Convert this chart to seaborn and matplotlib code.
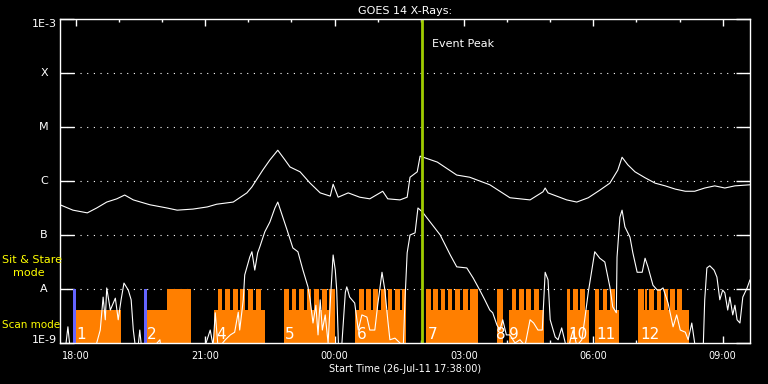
import matplotlib
matplotlib.use("Agg")
import matplotlib.pyplot as plt
from matplotlib.ticker import NullLocator, FixedLocator
import numpy as np
import pandas as pd
import seaborn as sns

# ---------------- data ----------------
title_text = "GOES 14 X-Rays:"
xlabel_text = "Start Time (26-Jul-11 17:38:00)"
span_minutes = 960  # minutes after 17:38

tick_minutes = [22, 202, 382, 562, 742, 922]
tick_labels = ["18:00", "21:00", "00:00", "03:00", "06:00", "09:00"]
hour_minutes = [22, 82, 142, 202, 262, 322, 382, 442, 502, 562, 622, 682, 742, 802, 862, 922]

decades = [1e-9, 1e-8, 1e-7, 1e-6, 1e-5, 1e-4, 1e-3]
class_levels = [1e-8, 1e-7, 1e-6, 1e-5, 1e-4]
class_letters = ["A", "B", "C", "M", "X"]

# long channel (1-8 A): minutes after start, log10 flux
long_t = [0, 18, 38, 51, 65, 79, 90, 102, 125, 149, 163, 185, 205, 218, 241, 260, 267,
          282, 292, 303, 313, 320, 334, 348, 362, 376, 380, 387, 401, 417, 431, 449, 456,
          473, 483, 487, 497, 501, 525, 552, 570, 598, 626, 654, 672, 675, 679, 705, 719,
          735, 751, 765, 776, 782, 790, 800, 814, 828, 842, 856, 870, 883, 897, 911, 925,
          939, 960]
long_log = [-6.44, -6.54, -6.59, -6.50, -6.39, -6.33, -6.26, -6.35, -6.44, -6.50, -6.54,
            -6.52, -6.48, -6.43, -6.39, -6.22, -6.11, -5.80, -5.61, -5.43, -5.61, -5.74,
            -5.83, -6.04, -6.22, -6.28, -6.06, -6.30, -6.22, -6.30, -6.33, -6.19, -6.33,
            -6.35, -6.30, -5.93, -5.83, -5.54, -5.65, -5.89, -5.93, -6.07, -6.31, -6.35,
            -6.20, -6.13, -6.22, -6.35, -6.39, -6.31, -6.17, -6.04, -5.80, -5.56, -5.70,
            -5.83, -5.94, -6.04, -6.09, -6.15, -6.19, -6.19, -6.13, -6.09, -6.13, -6.09,
            -6.07]

# short channel (0.5-4 A): minutes after start, log10 flux (values < -9 fall below the axis)
short_t = [0, 8, 11, 14, 28, 49, 56, 60, 63, 65, 70, 77, 81, 85, 89, 95, 99, 102, 107, 111,
           115, 139, 142, 180, 202, 209, 213, 216, 220, 230, 237, 243, 248, 250, 255, 257,
           262, 264, 267, 271, 275, 278, 285, 292, 299, 303, 309, 316, 324, 331, 338, 345,
           348, 352, 356, 359, 362, 365, 369, 373, 377, 380, 383, 385, 388, 392, 397, 399,
           403, 410, 415, 420, 427, 431, 438, 442, 448, 452, 456, 459, 466, 473, 477, 480,
           483, 487, 494, 498, 504, 515, 529, 543, 552, 566, 575, 584, 591, 598, 602, 608,
           612, 616, 621, 626, 633, 640, 647, 654, 659, 665, 671, 675, 679, 682, 689, 693,
           698, 703, 705, 710, 714, 719, 726, 730, 735, 740, 744, 751, 758, 765, 769, 774,
           775, 779, 782, 786, 793, 797, 803, 810, 814, 818, 825, 831, 835, 839, 846, 853,
           858, 863, 870, 874, 879, 883, 886, 895, 897, 900, 904, 910, 914, 918, 922, 925,
           929, 932, 936, 939, 942, 946, 950, 956, 960]
short_log = [-9.30, -9.05, -8.70, -9.10, -9.20, -9.10, -8.76, -8.15, -8.57, -7.98, -8.39,
             -8.17, -8.57, -8.20, -7.89, -8.02, -8.20, -8.76, -9.30, -8.76, -9.30, -8.94,
             -9.30, -9.40, -9.05, -8.76, -9.05, -8.44, -9.10, -8.94, -8.85, -8.80, -8.43,
             -8.76, -8.20, -7.74, -7.50, -7.41, -7.31, -7.65, -7.33, -7.22, -6.94, -6.76,
             -6.50, -6.39, -6.63, -6.91, -7.24, -7.31, -7.65, -7.96, -8.20, -8.63, -8.30,
             -8.85, -8.20, -8.76, -8.48, -9.00, -8.02, -7.37, -7.65, -8.02, -9.30, -9.05,
             -8.06, -7.96, -8.15, -8.26, -8.76, -8.48, -8.52, -8.76, -8.76, -8.30, -7.69,
             -8.02, -8.57, -8.94, -8.91, -9.00, -9.30, -8.20, -7.33, -7.00, -6.96, -6.50,
             -6.57, -6.76, -7.00, -7.37, -7.59, -7.61, -7.80, -8.02, -8.20, -8.39, -8.44,
             -8.67, -8.76, -8.57, -8.85, -8.85, -9.00, -8.94, -9.05, -8.57, -8.63, -8.76,
             -8.76, -7.69, -7.83, -8.57, -8.89, -8.94, -8.72, -9.00, -9.30, -8.94, -8.76,
             -9.05, -8.94, -8.57, -8.06, -7.65, -7.31, -7.43, -7.50, -7.96, -8.33, -8.44,
             -7.41, -6.67, -6.54, -6.85, -7.04, -7.33, -7.69, -7.69, -7.43, -7.59, -7.93,
             -8.02, -8.02, -7.98, -8.26, -8.70, -8.48, -8.76, -8.80, -8.94, -8.63, -9.00,
             -9.30, -9.05, -8.20, -7.61, -7.57, -7.65, -7.78, -8.20, -8.02, -8.07, -8.39,
             -8.15, -8.48, -8.30, -8.57, -8.63, -8.15, -7.98, -7.83]

# observing blocks (minutes after start)
scan_start = [22, 120, 214, 312, 411, 509, 608, 624, 705, 744, 804]
scan_end = [85, 182, 285, 383, 482, 581, 617, 674, 736, 778, 875]
sit_start = [149, 220, 230, 240, 250, 261, 272, 312, 323, 333, 343, 353, 364, 374,
             416, 426, 436, 446, 456, 466, 476, 509, 519, 530, 540, 550, 560, 570,
             608, 629, 639, 649, 659, 705, 714, 724, 744, 755, 765,
             804, 814, 820, 831, 840, 849, 859]
sit_end = [182, 226, 236, 247, 257, 268, 279, 319, 329, 339, 349, 360, 371, 383,
           423, 432, 442, 453, 462, 473, 482, 516, 526, 536, 546, 557, 567, 581,
           617, 635, 645, 655, 666, 710, 720, 730, 750, 761, 772,
           812, 817, 827, 836, 846, 856, 865]
marker_t = [20, 118.5]
block_labels = ["1", "2", "4", "5", "6", "7", "8", "9", "10", "11", "12"]
block_label_t = [23, 121, 217, 313, 413, 512, 607, 625, 707, 746, 807]
event_peak_t = 503

scan_top = 4.1e-9
sit_top = 1e-8
floor = 1e-10

# ---------------- style ----------------
sns.set_style("dark", {"axes.facecolor": "black", "figure.facecolor": "black",
                       "axes.edgecolor": "white", "text.color": "white",
                       "xtick.color": "white", "ytick.color": "white"})
plt.rcParams["font.family"] = ["DejaVu Sans"]

W, H = 768, 384
fig = plt.figure(figsize=(W / 100, H / 100), dpi=100, facecolor="black")
ax = fig.add_axes([60 / W, 41 / H, 690 / W, 324 / H])
ax.set_facecolor("black")
ax.set_yscale("log")
ax.set_xlim(0, span_minutes)
ax.set_ylim(1e-9, 1e-3)

orange = "#ff7f00"
# dotted class lines
for lv in class_levels:
    ax.axhline(lv, color="white", lw=0.8, ls=(0, (1, 5)), zorder=0.8)

# scan-mode blocks
s0 = np.array(scan_start, float); s1 = np.array(scan_end, float)
ax.bar(s0, scan_top - floor, width=s1 - s0, bottom=floor, align="edge",
       color=orange, linewidth=0, zorder=1)
# sit & stare blocks
h0 = np.array(sit_start, float); h1 = np.array(sit_end, float)
ax.bar(h0, sit_top - floor, width=h1 - h0, bottom=floor, align="edge",
       color=orange, linewidth=0, zorder=1)
# blue markers
ax.bar(marker_t, sit_top - floor, width=3.7, bottom=floor, align="center",
       color="#6464ff", linewidth=0, zorder=1.5)

df_long = pd.DataFrame({"t": long_t, "flux": np.power(10.0, long_log)})
df_short = pd.DataFrame({"t": short_t, "flux": np.power(10.0, short_log)})
sns.lineplot(data=df_long, x="t", y="flux", ax=ax, color="white", lw=0.8,
             estimator=None, sort=False, zorder=3)
sns.lineplot(data=df_short, x="t", y="flux", ax=ax, color="white", lw=0.8,
             estimator=None, sort=False, zorder=3)

ax.axvline(event_peak_t, color="#a0cc00", lw=2.0, zorder=4)
ax.text(517, 3.07e-4, "Event Peak", color="white", fontsize=8, va="baseline", zorder=6)

for lab, t in zip(block_labels, block_label_t):
    ax.text(t, 1.19e-9, lab, color="white", fontsize=11, va="baseline", ha="left", zorder=6)

# axes / ticks
ax.set_xlabel(""); ax.set_ylabel("")
for sp in ax.spines.values():
    sp.set_color("white"); sp.set_linewidth(1.0); sp.set_zorder(5)
ax.xaxis.set_major_locator(FixedLocator(tick_minutes))
ax.set_xticklabels(tick_labels)
ax.xaxis.set_minor_locator(FixedLocator(hour_minutes))
ax.tick_params(axis="x", which="major", direction="in", length=5, width=1,
               colors="white", top=True, bottom=True, labelsize=7, pad=5.5)
ax.tick_params(axis="x", which="minor", direction="in", length=2.5, width=1,
               colors="white", top=True, bottom=True)
ax.yaxis.set_major_locator(FixedLocator(decades))
ax.yaxis.set_minor_locator(NullLocator())
ax.set_yticklabels([""] * len(decades))
ax.tick_params(axis="y", which="major", direction="in", length=10, width=1,
               colors="white", left=True, right=True, labelleft=False)
ax.grid(False)

ytr = ax.get_yaxis_transform()
for lv, letter in zip(class_levels, class_letters):
    ax.text(-16 / 690, lv, letter, transform=ytr, color="white", fontsize=8,
            ha="center", va="center", clip_on=False)
ax.text(-3 / 690, 1e-3, "1E-3", transform=ytr, color="white", fontsize=8,
        ha="right", va="top", clip_on=False)
ax.text(-3 / 690, 1e-9, "1E-9", transform=ytr, color="white", fontsize=8,
        ha="right", va="baseline", clip_on=False)

fig.text(405 / W, 1 - 14 / H, title_text, color="white", fontsize=8,
         ha="center", va="baseline")
fig.text(405 / W, 1 - 368.5 / H, xlabel_text, color="white", fontsize=7,
         ha="center", va="center")
yellow = "#ffff00"
fig.text(2 / W, 1 - 263 / H, "Sit & Stare", color=yellow, fontsize=8, ha="left", va="baseline")
fig.text(13 / W, 1 - 276 / H, "mode", color=yellow, fontsize=8, ha="left", va="baseline")
fig.text(2 / W, 1 - 328 / H, "Scan mode", color=yellow, fontsize=7.5, ha="left", va="baseline")

fig.savefig("out.png", dpi=100, facecolor="black")
